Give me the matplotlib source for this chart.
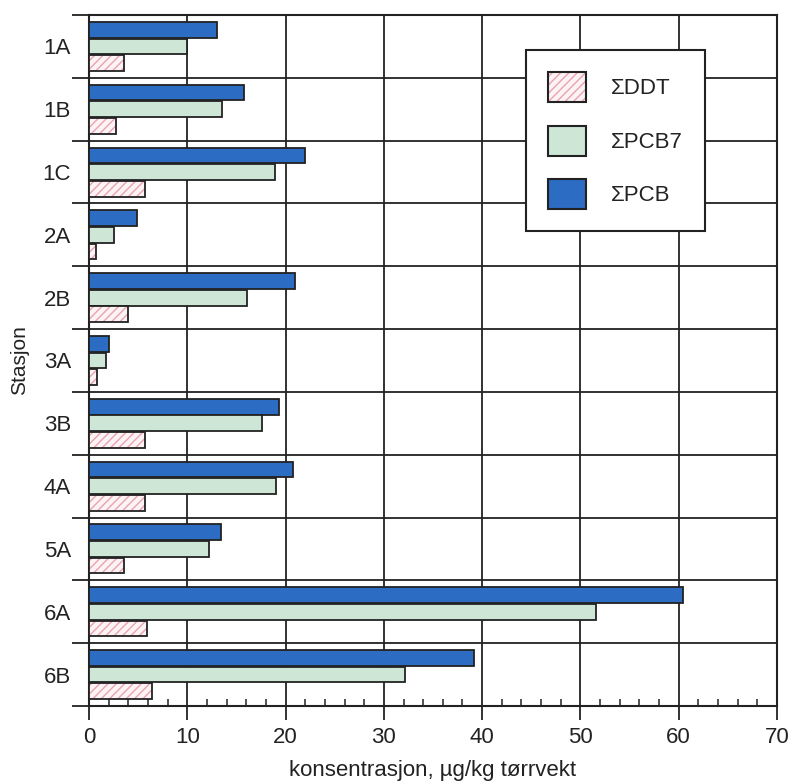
import matplotlib
matplotlib.use("Agg")
import matplotlib.pyplot as plt
import numpy as np
from matplotlib.patches import Patch

stations = ["1A", "1B", "1C", "2A", "2B", "3A", "3B", "4A", "5A", "6A", "6B"]
ddt = [3.6, 2.7, 5.7, 0.7, 4.0, 0.8, 5.7, 5.7, 3.6, 5.9, 6.4]
pcb7 = [10.0, 13.5, 18.9, 2.5, 16.1, 1.7, 17.6, 19.0, 12.2, 51.6, 32.2]
pcb = [13.0, 15.8, 22.0, 4.9, 21.0, 2.0, 19.3, 20.8, 13.4, 60.4, 39.2]
series_labels = ["\u03a3DDT", "\u03a3PCB7", "\u03a3PCB"]

plt.rcParams['font.family'] = ['Liberation Sans', 'DejaVu Sans']

fig = plt.figure(figsize=(7.92, 7.82), dpi=100)
ax = fig.add_axes([89/792, 1-706/782, 688/792, 691/782])

y = np.arange(len(stations))
h = 0.25
off = 0.265
blue = "#2c6cc2"
green = "#cde6d6"
pinkfill = "#fdf2f4"
pinkhatch = "#e7a3b3"
ink = "#222222"
fs = 16

ax.barh(y - off, pcb, height=h, color=blue, edgecolor=ink, linewidth=1.3, zorder=3)
ax.barh(y, pcb7, height=h, color=green, edgecolor=ink, linewidth=1.3, zorder=3)
ax.barh(y + off, ddt, height=h, color=pinkfill, edgecolor=pinkhatch, hatch="////", linewidth=0, zorder=3)
ax.barh(y + off, ddt, height=h, fill=False, edgecolor=ink, linewidth=1.3, zorder=4)

ax.set_xlim(0, 70)
ax.set_ylim(len(stations) - 0.5, -0.5)

ax.set_xticks(np.arange(0, 71, 10))
ax.set_xticks(np.arange(0, 71, 2), minor=True)
ax.tick_params(axis='x', which='major', direction='out', length=10, width=1.3, labelsize=fs, color=ink, labelcolor=ink, pad=5)
ax.tick_params(axis='x', which='minor', direction='in', length=5, width=1.1, color=ink)

ax.set_yticks(np.arange(-0.5, len(stations), 1.0))
ax.set_yticklabels([])
ax.set_yticks(y, minor=True)
ax.set_yticklabels(stations, minor=True)
ax.tick_params(axis='y', which='major', direction='out', length=12, width=1.3, color=ink)
ax.tick_params(axis='y', which='minor', length=0, labelsize=fs, labelcolor=ink, pad=13)

ax.grid(True, which='major', color=ink, linewidth=1.3, zorder=1)
ax.set_axisbelow(True)
for s in ax.spines.values():
    s.set_linewidth(1.5)
    s.set_color(ink)

ax.set_xlabel("konsentrasjon, \u00b5g/kg t\u00f8rrvekt", fontsize=fs, color=ink, labelpad=9)
ax.set_ylabel("Stasjon", fontsize=15, color=ink, labelpad=10)

handles = [
    (Patch(facecolor=pinkfill, edgecolor=pinkhatch, hatch="////", linewidth=0),
     Patch(fill=False, edgecolor=ink, linewidth=1.5)),
    Patch(facecolor=green, edgecolor=ink, linewidth=1.5),
    Patch(facecolor=blue, edgecolor=ink, linewidth=1.5),
]
leg = ax.legend(handles, series_labels, loc='upper left', bbox_to_anchor=((526-89)/688, 1-(50-15)/691),
                fontsize=fs, frameon=True, fancybox=False, framealpha=1, edgecolor=ink,
                handlelength=1.7, handleheight=1.7, labelspacing=1.05, handletextpad=1.1,
                borderpad=1.0, borderaxespad=0)
leg.get_frame().set_linewidth(1.5)
for t in leg.get_texts():
    t.set_color(ink)
leg.set_zorder(10)

fig.savefig("out.png", dpi=100)
